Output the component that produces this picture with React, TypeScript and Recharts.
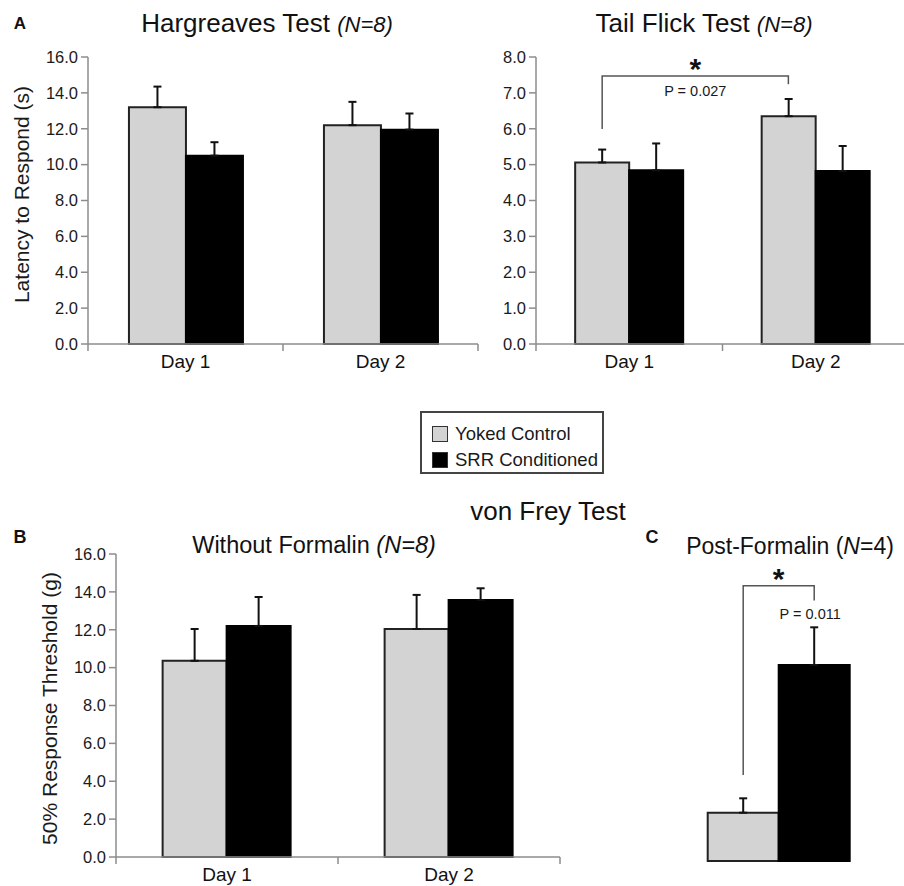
import { BarChart, Bar, XAxis, YAxis, ErrorBar, Legend } from 'recharts';

const FONT = '"Liberation Sans", Arial, Helvetica, sans-serif';
const GRAY = '#d3d3d3';
const AXIS = '#8c8c8c';
const GAP = 0.21;
const GAP_C = 0.1;

// categories, series names and tick labels
const days = ['Day 1', 'Day 2'];
const seriesNames = ['Yoked Control', 'SRR Conditioned'];
const latencyTicks = [0, 2, 4, 6, 8, 10, 12, 14, 16];
const tailTicks = [0, 1, 2, 3, 4, 5, 6, 7, 8];
const thresholdTicks = [0, 2, 4, 6, 8, 10, 12, 14, 16];

// Hargreaves (s)
const hargYoked = [13.2, 12.2];
const hargYokedErr = [1.15, 1.3];
const hargSrr = [10.5, 11.95];
const hargSrrErr = [0.75, 0.9];

// Tail flick (s)
const tailYoked = [5.06, 6.35];
const tailYokedErr = [0.36, 0.48];
const tailSrr = [4.84, 4.82];
const tailSrrErr = [0.75, 0.7];

// von Frey without formalin (g)
const vfYoked = [10.36, 12.04];
const vfYokedErr = [1.68, 1.8];
const vfSrr = [12.2, 13.57];
const vfSrrErr = [1.53, 0.62];

// von Frey post-formalin (g)
const postLabel = ['Post-Formalin'];
const postYoked = [2.55];
const postYokedErr = [0.76];
const postSrr = [10.35];
const postSrrErr = [1.99];

// significance brackets: [bracket level, left leg end, right leg end]
const tailBracket = [7.47, 5.99, 7.24];
const postBracket = [14.53, 4.54, 13.75];

const toRows = (cats: string[], y: number[], ye: number[], s: number[], se: number[]) =>
  cats.map((day, i) => ({ day, yoked: y[i], yokedErr: [0, ye[i]], srr: s[i], srrErr: [0, se[i]] }));

const hargRows = toRows(days, hargYoked, hargYokedErr, hargSrr, hargSrrErr);
const tailRows = toRows(days, tailYoked, tailYokedErr, tailSrr, tailSrrErr);
const vfRows = toRows(days, vfYoked, vfYokedErr, vfSrr, vfSrrErr);
const postRows = toRows(postLabel, postYoked, postYokedErr, postSrr, postSrrErr);

const fmt = (v: number) => v.toFixed(1);

function DayTick(props: any) {
  const { x, y, payload, index } = props;
  const half = payload?.offset ?? 0;
  const last = index === days.length - 1;
  return (
    <g>
      <line x1={x - half} x2={x - half} y1={y} y2={y + 7} stroke={AXIS} strokeWidth={1.5} />
      {last && <line x1={x + half} x2={x + half} y1={y} y2={y + 7} stroke={AXIS} strokeWidth={1.5} />}
      <text x={x} y={y + 24} textAnchor="middle" fontSize={19} fill="#111" fontFamily={FONT}>
        {payload.value}
      </text>
    </g>
  );
}

function LegendBox(props: any) {
  const items = [...(props.payload ?? [])].sort(
    (a: any, b: any) => seriesNames.indexOf(a.value) - seriesNames.indexOf(b.value)
  );
  return (
    <div
      style={{
        width: 184,
        height: 63,
        boxSizing: 'border-box',
        border: '2px solid #444',
        padding: '8px 0 0 10px',
        fontFamily: FONT,
        fontSize: 18.5,
        color: '#1a1a1a',
      }}
    >
      {items.map((it: any) => (
        <div key={it.value} style={{ display: 'flex', alignItems: 'center', height: 26 }}>
          <span
            style={{
              display: 'inline-block',
              width: 16,
              height: 16,
              boxSizing: 'border-box',
              background: it.color,
              border: '1.5px solid #333',
              marginRight: 7,
            }}
          />
          {it.value}
        </div>
      ))}
    </div>
  );
}

// bracket drawn from the first yoked bar's geometry; `reach` returns the x of the other end
function makeBracket(b: number[], pText: string, reach: (cx: number, w: number) => number, pOnRight: boolean) {
  return function BracketLabel(props: any) {
    const vb = props.viewBox ?? props;
    const x = vb.x ?? props.x;
    const y = vb.y ?? props.y;
    const width = vb.width ?? props.width;
    const height = vb.height ?? props.height;
    const value = Number(props.value);
    if (props.index !== 0 || !value || !height) return null;
    const ppu = height / value;
    const base = y + height;
    const yAt = (v: number) => base - v * ppu;
    const x0 = x + width / 2;
    const x1 = reach(x0, width);
    const top = yAt(b[0]);
    return (
      <g>
        <path
          d={`M${x0},${yAt(b[1])}V${top}H${x1}V${yAt(b[2])}`}
          fill="none"
          stroke="#555"
          strokeWidth={1.5}
        />
        <text x={(x0 + x1) / 2} y={top + 3} textAnchor="middle" fontSize={30} fontWeight={700} fill="#111" fontFamily={FONT}>
          *
        </text>
        <text
          x={pOnRight ? x1 - 4 : (x0 + x1) / 2}
          y={pOnRight ? yAt(b[2]) + 18 : top + 19.5}
          textAnchor="middle"
          fontSize={14.5}
          fill="#1a1a1a"
          fontFamily={FONT}
        >
          {pText}
        </text>
      </g>
    );
  };
}

const TailBracket = makeBracket(tailBracket, 'P = 0.027', (cx, w) => cx + (w * 2) / (1 - 2 * GAP), false);
const PostBracket = makeBracket(postBracket, 'P = 0.011', (cx, w) => cx + w, true);

function bars(bracket?: any) {
  return [
    <Bar
      key="y"
      dataKey="yoked"
      name={seriesNames[0]}
      fill={GRAY}
      stroke="#222"
      strokeWidth={2}
      isAnimationActive={false}
      label={bracket}
    >
      <ErrorBar dataKey="yokedErr" direction="y" width={4} stroke="#111" strokeWidth={2} isAnimationActive={false} />
    </Bar>,
    <Bar key="s" dataKey="srr" name={seriesNames[1]} fill="#000" stroke="#000" strokeWidth={2} isAnimationActive={false}>
      <ErrorBar dataKey="srrErr" direction="y" width={4} stroke="#111" strokeWidth={2} isAnimationActive={false} />
    </Bar>,
  ];
}

function yAxis(ticks: number[], width: number, label?: any) {
  return (
    <YAxis
      domain={[ticks[0], ticks[ticks.length - 1]]}
      ticks={ticks}
      interval={0}
      tickFormatter={fmt}
      width={width}
      tickSize={7}
      tickMargin={3}
      tick={{ fill: '#1a1a1a', fontSize: 16.5, fontFamily: FONT }}
      axisLine={{ stroke: AXIS, strokeWidth: 1.5 }}
      tickLine={{ stroke: AXIS, strokeWidth: 1.5 }}
      label={label}
    />
  );
}

function xAxis(height: number) {
  return (
    <XAxis
      dataKey="day"
      height={height}
      interval={0}
      tickLine={false}
      tickSize={0}
      tickMargin={0}
      axisLine={{ stroke: AXIS, strokeWidth: 1.5 }}
      tick={<DayTick />}
    />
  );
}

const text = (s: any): any => ({ position: 'absolute', transform: 'translate(-50%, -50%)', whiteSpace: 'nowrap', lineHeight: 1, ...s });

export default function App() {
  return (
    <div
      style={{
        position: 'absolute',
        left: 0,
        top: 0,
        width: 904,
        height: 886,
        overflow: 'hidden',
        background: '#fff',
        fontFamily: FONT,
        color: '#111',
      }}
    >
      {/* A: Hargreaves */}
      <div style={{ position: 'absolute', left: 0, top: 0 }}>
        <BarChart width={490} height={480} data={hargRows} margin={{ top: 57, right: 12, bottom: 100, left: 0 }} barCategoryGap={`${GAP * 100}%`} barGap={0}>
          {xAxis(36)}
          {yAxis(latencyTicks, 88, {
            value: 'Latency to Respond (s)',
            angle: -90,
            position: 'center',
            dx: -22,
            dy: -6,
            fontSize: 21,
            fill: '#1a1a1a',
            fontFamily: FONT,
          })}
          {bars()}
          <Legend
            layout="vertical"
            align="center"
            verticalAlign="middle"
            content={LegendBox}
            wrapperStyle={{ left: 420, top: 411, width: 184, height: 63 }}
          />
        </BarChart>
      </div>

      {/* A: Tail flick */}
      <div style={{ position: 'absolute', left: 450, top: 0 }}>
        <BarChart width={460} height={380} data={tailRows} margin={{ top: 57, right: 1, bottom: 0, left: 0 }} barCategoryGap={`${GAP * 100}%`} barGap={0}>
          {xAxis(36)}
          {yAxis(tailTicks, 86)}
          {bars(TailBracket)}
        </BarChart>
      </div>

      {/* B: without formalin */}
      <div style={{ position: 'absolute', left: 0, top: 530 }}>
        <BarChart width={570} height={356} data={vfRows} margin={{ top: 24, right: 10, bottom: 0, left: 0 }} barCategoryGap={`${GAP * 100}%`} barGap={0}>
          {xAxis(29)}
          {yAxis(thresholdTicks, 116, {
            value: '50% Response Threshold (g)',
            angle: -90,
            position: 'center',
            dx: -8,
            dy: 3,
            fontSize: 21,
            fill: '#1a1a1a',
            fontFamily: FONT,
          })}
          {bars()}
        </BarChart>
      </div>

      {/* C: post-formalin */}
      <div style={{ position: 'absolute', left: 660, top: 530 }}>
        <BarChart width={230} height={356} data={postRows} margin={{ top: 28, right: 23, bottom: 25, left: 30 }} barCategoryGap={`${GAP_C * 100}%`} barGap={0}>
          <XAxis dataKey="day" hide />
          <YAxis domain={[0, 16]} hide />
          {bars(PostBracket)}
        </BarChart>
      </div>

      <div style={text({ left: 20, top: 23, fontSize: 17, fontWeight: 700 })}>A</div>
      <div style={text({ left: 267, top: 23, fontSize: 26 })}>
        Hargreaves Test <i style={{ fontSize: 22 }}>(N=8)</i>
      </div>
      <div style={text({ left: 704, top: 23, fontSize: 26 })}>
        Tail Flick Test <i style={{ fontSize: 22 }}>(N=8)</i>
      </div>
      <div style={text({ left: 548, top: 511, fontSize: 26 })}>von Frey Test</div>
      <div style={text({ left: 20, top: 537, fontSize: 18, fontWeight: 700 })}>B</div>
      <div style={text({ left: 314, top: 546, fontSize: 23.5 })}>
        Without Formalin <i>(N=8)</i>
      </div>
      <div style={text({ left: 652, top: 537, fontSize: 18, fontWeight: 700 })}>C</div>
      <div style={text({ left: 790, top: 546, fontSize: 23 })}>
        Post-Formalin (<i>N</i>=4)
      </div>
    </div>
  );
}
